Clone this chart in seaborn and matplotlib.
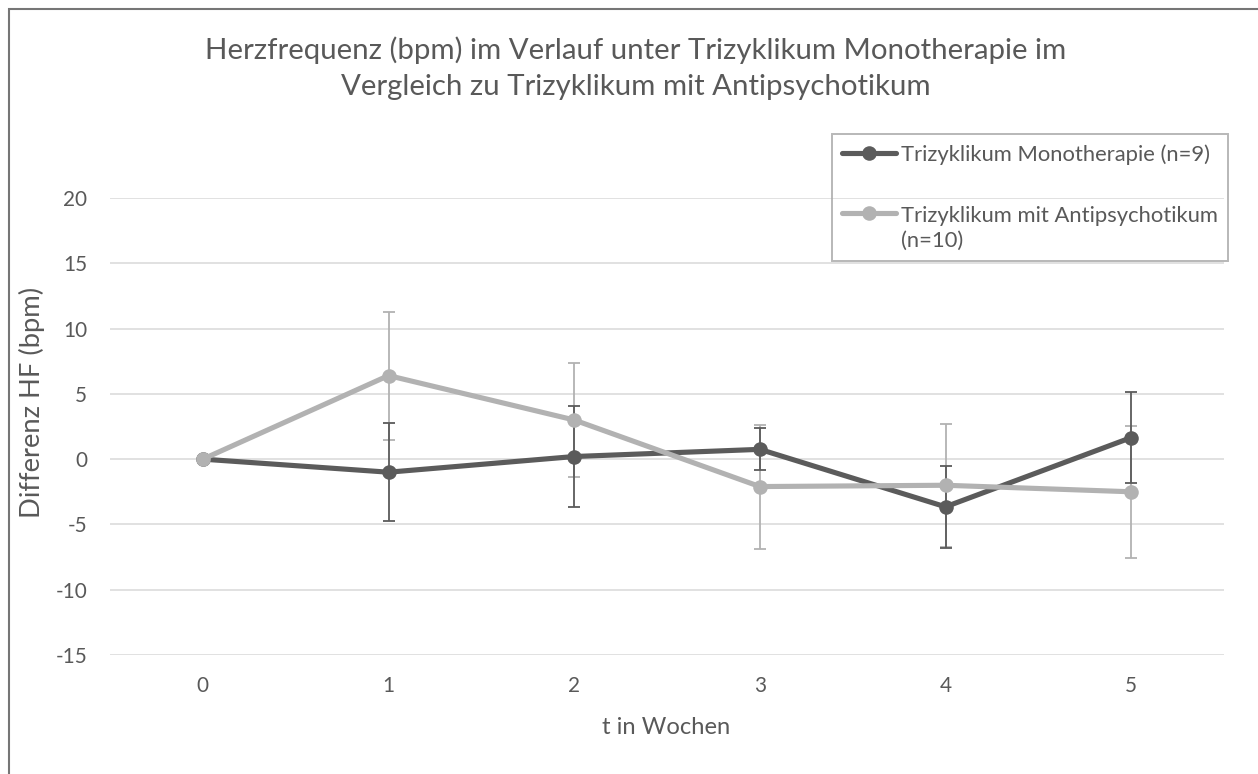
import numpy as np
import pandas as pd
import matplotlib
matplotlib.use("Agg")
import matplotlib.pyplot as plt
import seaborn as sns
from matplotlib.patches import Rectangle
from matplotlib.legend_handler import HandlerLine2D

# ---------------- data ----------------
weeks = [0, 1, 2, 3, 4, 5]
mono_mean = [0.0, -1.0, 0.2, 0.75, -3.65, 1.65]
mono_err = [0.0, 3.75, 3.85, 1.6, 3.15, 3.5]
combo_mean = [0.0, 6.4, 3.0, -2.1, -2.0, -2.5]
combo_err = [0.0, 4.9, 4.4, 4.75, 4.7, 5.05]
series_labels = ["Trizyklikum Monotherapie (n=9)",
                 "Trizyklikum mit Antipsychotikum\n(n=10)"]
title_lines = ["Herzfrequenz (bpm) im Verlauf unter Trizyklikum Monotherapie im",
               "Vergleich zu Trizyklikum mit Antipsychotikum"]
x_label = "t in Wochen"
y_label = "Differenz HF (bpm)"
y_ticks = [-15, -10, -5, 0, 5, 10, 15, 20]

# ---------------- style ----------------
sns.set_theme(style="white")
FONT = "Lato"
plt.rcParams["font.family"] = [FONT, "DejaVu Sans"]
TXT = "#595959"
DARK = "#5b5b5b"
LIGHT = "#b2b2b2"

W, H = 1258, 774
fig = plt.figure(figsize=(W / 100, H / 100), dpi=100)
fig.patch.set_facecolor("white")
ax = fig.add_axes([110 / W, 1 - 655 / H, 1114 / W, 457 / H])

renderer = fig.canvas.get_renderer()


def size_for(s, target_px, weight="normal"):
    t = fig.text(0, 0, s, fontsize=10, fontweight=weight)
    w = t.get_window_extent(renderer).width
    t.remove()
    return 10 * target_px / w


title_fs = size_for(title_lines[0], 862)
tick_fs = size_for("-15", 32)
ylab_fs = size_for(y_label, 231)
xlab_fs = size_for(x_label, 128)
leg_fs = size_for(series_labels[0], 311)

# ---------------- data frame ----------------
df = pd.DataFrame({
    "Woche": weeks * 2,
    "Differenz": mono_mean + combo_mean,
    "Gruppe": [series_labels[0]] * len(weeks) + [series_labels[1]] * len(weeks),
})

# error bars (light below dark)
ax.errorbar(weeks, combo_mean, yerr=combo_err, fmt="none", ecolor=LIGHT,
            elinewidth=1.3, capsize=4.5, capthick=1.3, zorder=2)
ax.errorbar(weeks, mono_mean, yerr=mono_err, fmt="none", ecolor=DARK,
            elinewidth=1.3, capsize=4.5, capthick=1.3, zorder=2.1)

for lab, col, z in [(series_labels[0], DARK, 3), (series_labels[1], LIGHT, 4)]:
    sns.lineplot(data=df[df["Gruppe"] == lab], x="Woche", y="Differenz",
                 color=col, linewidth=3.7, marker="o", markersize=10.5,
                 markeredgewidth=0, label=lab, ax=ax, zorder=z,
                 errorbar=None)

# ---------------- axes ----------------
ax.set_xlim(-0.5, 5.5)
ax.set_ylim(-15, 20)
ax.set_xticks(weeks)
ax.set_yticks(y_ticks)
ax.set_xticklabels([str(w) for w in weeks])
ax.set_yticklabels([str(v) for v in y_ticks])
ax.tick_params(axis="both", length=0, labelsize=tick_fs, labelcolor=TXT)
ax.tick_params(axis="y", pad=16.5)
ax.tick_params(axis="x", pad=15)
ax.yaxis.grid(True, color="#d9d9d9", linewidth=1.1)
ax.xaxis.grid(False)
ax.set_axisbelow(True)
for sp in ax.spines.values():
    sp.set_visible(False)
ax.set_facecolor("none")

ax.set_xlabel(x_label, fontsize=xlab_fs, color=TXT)
ax.set_ylabel(y_label, fontsize=ylab_fs, color=TXT)
ax.xaxis.set_label_coords((666 - 110) / 1114, (655 - 728) / 457)
ax.xaxis.label.set_verticalalignment("center")
ax.yaxis.set_label_coords((32 - 110) / 1114, (655 - 402) / 457)
ax.yaxis.label.set_verticalalignment("center")

# ---------------- title ----------------
fig.text(636 / W, 1 - 50 / H, title_lines[0], ha="center", va="center",
         fontsize=title_fs, color=TXT)
fig.text(636 / W, 1 - 87 / H, title_lines[1], ha="center", va="center",
         fontsize=title_fs, color=TXT)

# ---------------- legend ----------------
leg_px = leg_fs * 100 / 72
line_gap_px = 30
leg_linespacing = 1.2 * line_gap_px / (leg_px * 1.24)


class FirstLineHandler(HandlerLine2D):
    """Align the legend handle with the first line of a wrapped label."""

    def __init__(self, shift_pt, **kw):
        super().__init__(**kw)
        self.shift_pt = shift_pt

    def create_artists(self, legend, orig_handle, xdescent, ydescent, width,
                       height, fontsize, trans):
        return super().create_artists(legend, orig_handle, xdescent,
                                      ydescent - 2 * self.shift_pt, width,
                                      height, fontsize, trans)


handles, labels = ax.get_legend_handles_labels()
leg = ax.legend(handles, labels, loc="upper left",
                bbox_to_anchor=(832 / W, 1 - 134 / H),
                bbox_transform=fig.transFigure, borderaxespad=0,
                fontsize=leg_fs, frameon=True, fancybox=False,
                edgecolor="#a6a6a6", facecolor="none",
                handlelength=54 / leg_px, handletextpad=5 / leg_px,
                labelspacing=41 / leg_px, borderpad=0.45,
                handler_map={handles[1]: FirstLineHandler(
                    shift_pt=(line_gap_px / 2) * 0.72)})
leg.get_frame().set_linewidth(1.4)
for t in leg.get_texts():
    t.set_color(TXT)
    t.set_linespacing(leg_linespacing)

# chart frame (left & top visible)
fig.patches.append(Rectangle((9 / W, -0.2), 1.5, 1.2 - 9 / H,
                             transform=fig.transFigure, fill=False,
                             edgecolor="#767676", linewidth=1.5))

fig.savefig("out.png", dpi=100, facecolor="white")
